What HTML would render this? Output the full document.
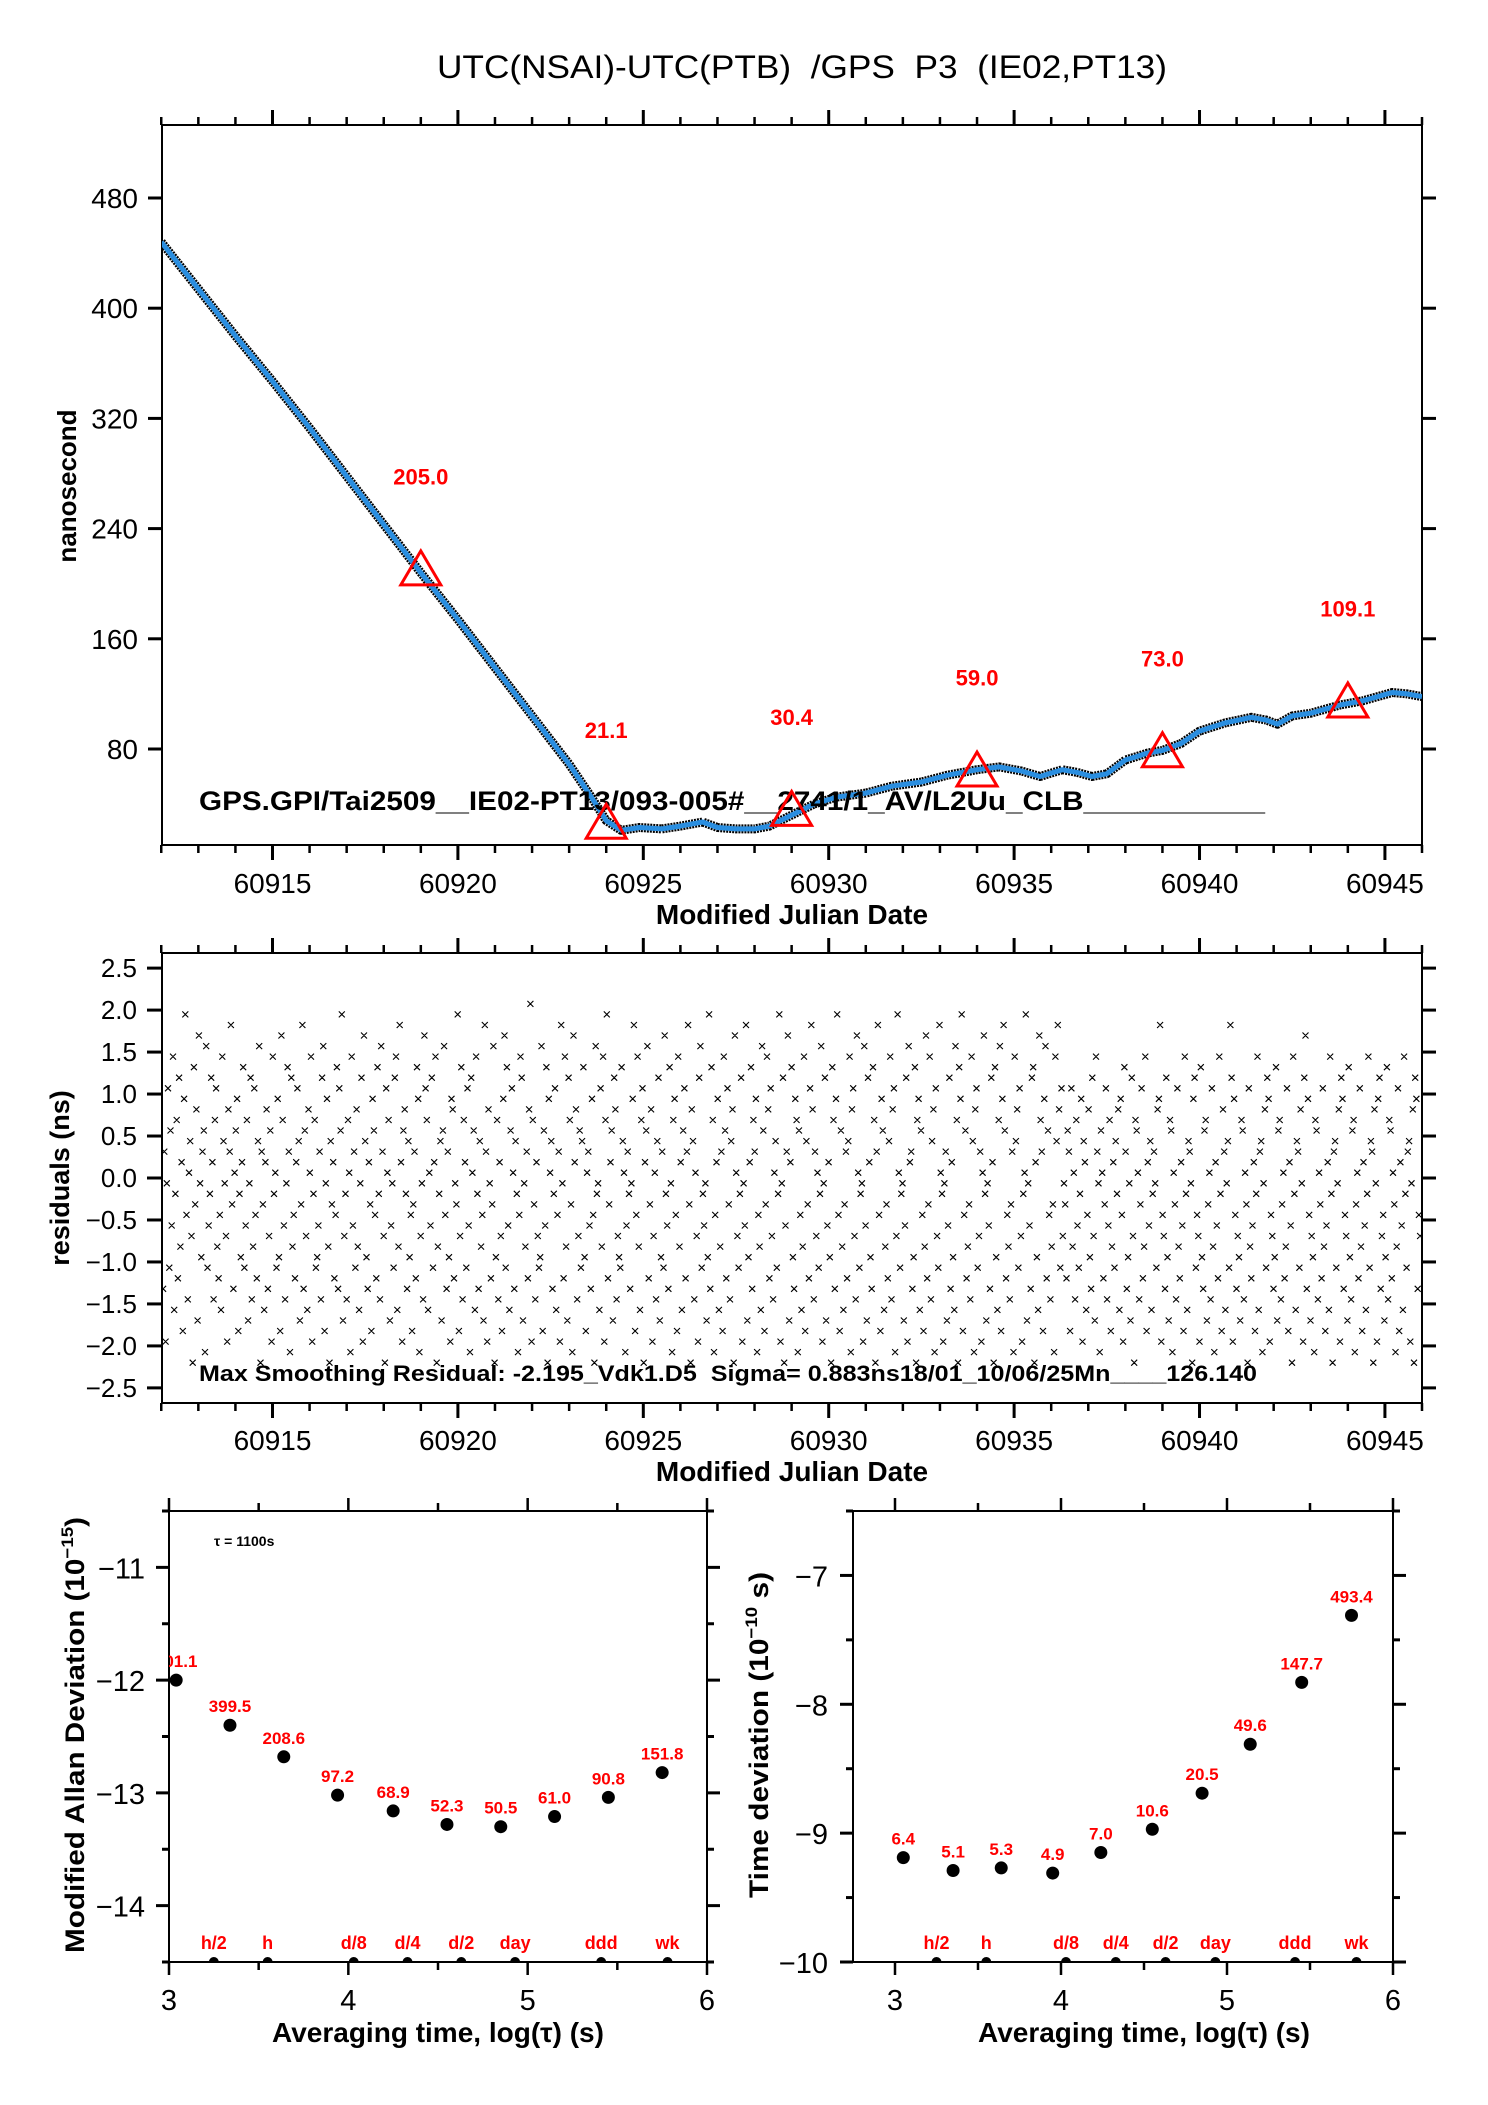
<!DOCTYPE html>
<html><head><meta charset="utf-8"><title>UTC(NSAI)-UTC(PTB) GPS P3</title>
<style>
html,body{margin:0;padding:0;background:#fff;}
svg{display:block;}
text{font-family:"Liberation Sans",Arial,sans-serif;white-space:pre;}
</style></head>
<body>
<svg id="fig" xmlns="http://www.w3.org/2000/svg" width="1488" height="2105" viewBox="0 0 1488 2105">
<rect width="1488" height="2105" fill="#fff"/>
<text x="802" y="78" font-size="32" text-anchor="middle" textLength="730" lengthAdjust="spacingAndGlyphs" xml:space="preserve">UTC(NSAI)-UTC(PTB)  /GPS  P3  (IE02,PT13)</text>
<defs>
<clipPath id="clipTop"><rect x="162" y="125" width="1260" height="720"/></clipPath>
<clipPath id="clipMid"><rect x="162" y="953" width="1260" height="450"/></clipPath>
<clipPath id="clipBL"><rect x="169" y="1511" width="538" height="451"/></clipPath>
<clipPath id="clipBR"><rect x="853" y="1511" width="540" height="451"/></clipPath>
</defs>
<g id="gTop"></g>
<g id="gMid"></g>
<g id="gBL"></g>
<g id="gBR"></g>
</svg>
<script>
// ---------- data: top panel ----------
const curveMjd = [60912.0,60913,60914,60915,60916,60917,60918,60919,60920,60921,60922,60923,60923.6,60924.0,60924.4,60924.9,60925.5,60926.0,60926.6,60927.0,60927.5,60928.0,60928.4,60929.0,60929.6,60930.2,60931.0,60931.7,60932.5,60933.2,60934.0,60934.6,60935.2,60935.7,60936.3,60936.7,60937.1,60937.5,60938.0,60938.6,60939.0,60939.5,60940.0,60940.7,60941.4,60941.8,60942.1,60942.5,60943.0,60943.8,60944.4,60945.2,60945.6,60946.0];
const curveNs = [448,414,380,347,313,278,243,208,174,139,104,69,45,28,21,23,22,24,27,23,22,22,24,32,40,45,48,53,56,61,65,67,64,60,65,63,60,62,72,77,79,84,93,99,103,101,98,104,106,112,115,121,120,118];
const markMjd = [60919,60924,60929,60934,60939,60944];
const markVals = [205.0,21.1,30.4,59.0,73.0,109.1];
const topYTicks = [80,160,240,320,400,480];
const mjdTicks = [60915,60920,60925,60930,60935,60940,60945];
// ---------- data: residuals ----------
const residCodes =
"7k2hq9mdt5gn8rbj3pxe6ilc0sfo4vhakm1u9dgrj6nqb8e5tlhc2okwf7imp3gajs9dn4hr6bqe8lu0kf5jo7cm2tgi9pa3vnd6hsk1rbe8jql4fw7mc5oit2gn9adk6ru3hpb0lfj8es7qmx4cg6ni1tdk9ob5hr2vla7jf3pme8sg6ukc0qin4dh9rt5bwj2mog7lae3fk8sp1ch6vqn5idr9jt0bgl4mue7ka2po8hfx3cs6nj9qd1rim5tg7lbe4wk2oh8fu0an6jc3pv9sd5mqi7lg1etr4hbk8oy2nf6jc9au3mds0pil7gq5ek2wh8tb4rnf1vjo6cm9lsa3ikd7pe0ugh5qbt2nx8fjm4ro6ca9sli1dkg7hpw3etb5nq0jmu8fo2ci6lr4ak9vgd7sh1npe3tbj5mq8kwf0ol6ic2ru9gdh4ax7sn1ejp5bk3tm8qf6lo0vic9gr2hdw4ajs7nkp1eb5um3fto8qc6il9gx2hr0dkv4jsa7pn1me5bt3lf8qwo6kci9gu2hr4dja0sn7pxe3mb5fk8lt1oqc6vi9gh2ud4rja7sn0kwe3pm5bf8lt6oq1cxi9gh4dr2ujk7as0np5me3bv8ft6lo1qc9wig2hk4dr7ja5un0spx3em8bf6tl1oq9ck2ivg4hd7rj0sa5nu3pwm8eb6fk1tlo9qc2gix4hd7rs0ja5vnk3pu8me6bf1tlwo9qc"+
"hf8mk3qbi6nd9gp2lj5eoa7rc4tkh1mi8fq6dn3bj9lgo5pe2sk7ah4rc0nmi6fq8bt3jdl5gkh9opw2ec7ra4nm1if6qb8jd3tg5lkh0pr9ec2sa7mn4fi6qb1jd8tg3ok5hl9wr2pe7ca4nm6if0qb8dj3gt5kl1ho9rp2ec7as4mn6fi8bq3jd0tg5lk9oh2rv7pe4ca1nm6if8qb3dj5tg0kl9ho2rp7ec4sa6mn1fi8qb3jd5gt9lk0oh2pr7ce4as6nm8if1bq3jd5tg9kl2ho0rp7ec";
const residTicks = [-2.5,-2.0,-1.5,-1.0,-0.5,0.0,0.5,1.0,1.5,2.0,2.5];
// ---------- data: Allan deviation ----------
const adevLogTau = [3.04,3.34,3.64,3.94,4.25,4.55,4.85,5.15,5.45,5.75];
const adevVals = [-12.0,-12.40,-12.68,-13.02,-13.16,-13.28,-13.30,-13.21,-13.04,-12.82];
const adevLabels = ["401.1","399.5","208.6","97.2","68.9","52.3","50.5","61.0","90.8","151.8"];
const adevYTicks = [-14,-13,-12,-11];
// ---------- data: time deviation ----------
const tdevLogTau = [3.05,3.35,3.64,3.95,4.24,4.55,4.85,5.14,5.45,5.75];
const tdevVals = [-9.19,-9.29,-9.27,-9.31,-9.15,-8.97,-8.69,-8.31,-7.83,-7.31];
const tdevLabels = ["6.4","5.1","5.3","4.9","7.0","10.6","20.5","49.6","147.7","493.4"];
const tdevYTicks = [-10,-9,-8,-7];
// ---------- shared ----------
const spanLogTau = [3.25,3.55,4.03,4.33,4.63,4.93,5.41,5.78];
const spanLabels = ["h/2","h","d/8","d/4","d/2","day","ddd","wk"];
const logTicks = [3,4,5,6];

const NS = "http://www.w3.org/2000/svg";
function mk(tag, attrs, parent, txt){
  const e = document.createElementNS(NS, tag);
  for (const k in attrs) e.setAttribute(k, attrs[k]);
  if (txt !== undefined) e.textContent = txt;
  parent.appendChild(e);
  return e;
}
function lin(d0,d1,r0,r1){ return v => r0 + (v-d0)/(d1-d0)*(r1-r0); }

// ================= TOP PANEL =================
(function(){
  const g = document.getElementById('gTop');
  const L=162,R=1422,T=125,B=845;
  const x = lin(60912.02,60946.0,L,R), y = lin(10.3,533,B,T);
  const frame = mk('rect',{x:L,y:T,width:R-L,height:B-T,fill:'none',stroke:'#000','stroke-width':2},g);
  
  
  for (let d=60912; d<=60946; d++){
    const major = d%5===0;
    const len = major?15:8;
    const t1 = mk('line',{x1:x(d),x2:x(d),y1:T,y2:T-len,stroke:'#000','stroke-width':major?3:2.5},g);
    
    
    const t2 = mk('line',{x1:x(d),x2:x(d),y1:B,y2:B+len,stroke:'#000','stroke-width':major?3:2.5},g);
    
    
  }
  mjdTicks.forEach(v=>{
    const t = mk('text',{x:x(v),y:893,'font-size':28,'text-anchor':'middle'},g,String(v));
    
    
  });
  topYTicks.forEach(v=>{
    const a = mk('line',{x1:L-14,x2:L,y1:y(v),y2:y(v),stroke:'#000','stroke-width':3},g);
    
    
    const b = mk('line',{x1:R,x2:R+14,y1:y(v),y2:y(v),stroke:'#000','stroke-width':3},g);
    
    
    const t = mk('text',{x:138,y:y(v)+10,'font-size':28,'text-anchor':'end'},g,String(v));
    
    
  });
  const cg = mk('g',{'clip-path':'url(#clipTop)'},g);
  
  
  const pts = curveMjd.map((m,i)=>x(m).toFixed(1)+','+y(curveNs[i]).toFixed(1)).join(' ');
  const under = mk('polyline',{points:pts,fill:'none',stroke:'#000','stroke-width':9,'stroke-linejoin':'round','stroke-dasharray':'2 1'},cg);
  
  
  const line = mk('polyline',{points:pts,fill:'none',stroke:'#2a8ee0','stroke-width':5,'stroke-linejoin':'round'},cg);
  
  
  const gt = mk('text',{x:199,y:810,'font-size':27,'font-weight':'bold',textLength:1066,lengthAdjust:'spacingAndGlyphs'},g,'GPS.GPI/Tai2509__IE02-PT13/093-005#__2741/1_AV/L2Uu_CLB___________');
  
  
  markMjd.forEach((m,i)=>{
    const cx=x(m), cy=y(markVals[i]+5);
    const tri = mk('polygon',{points:`${cx},${cy-19} ${cx-20},${cy+15} ${cx+20},${cy+15}`,fill:'none',stroke:'#f00','stroke-width':3},g);
    
    
    const lb = mk('text',{x:cx,y:y(markVals[i]+67),'font-size':22,'font-weight':'bold',fill:'#f00','text-anchor':'middle'},g,markVals[i].toFixed(1));
    
    
  });
  const xt = mk('text',{x:792,y:924,'font-size':28,'font-weight':'bold','text-anchor':'middle'},g,'Modified Julian Date');
  
  
  const yt = mk('text',{x:0,y:0,'font-size':26,'font-weight':'bold','text-anchor':'middle',transform:'translate(76,486) rotate(-90)'},g,'nanosecond');
  
  
})();

// ================= MIDDLE PANEL =================
(function(){
  const g = document.getElementById('gMid');
  const L=162,R=1422,T=953,B=1403;
  const x = lin(60912.02,60946.0,L,R), y = lin(-2.68,2.68,B,T);
  const frame = mk('rect',{x:L,y:T,width:R-L,height:B-T,fill:'none',stroke:'#000','stroke-width':2},g);
  
  
  for (let d=60912; d<=60946; d++){
    const major = d%5===0;
    const len = major?15:8;
    const t1 = mk('line',{x1:x(d),x2:x(d),y1:T,y2:T-len,stroke:'#000','stroke-width':major?3:2.5},g);
    
    
    const t2 = mk('line',{x1:x(d),x2:x(d),y1:B,y2:B+len,stroke:'#000','stroke-width':major?3:2.5},g);
    
    
  }
  mjdTicks.forEach(v=>{
    const t = mk('text',{x:x(v),y:1450,'font-size':28,'text-anchor':'middle'},g,String(v));
    
    
  });
  residTicks.forEach(v=>{
    const a = mk('line',{x1:L-15,x2:L,y1:y(v),y2:y(v),stroke:'#000','stroke-width':3},g);
    
    
    const b = mk('line',{x1:R,x2:R+14,y1:y(v),y2:y(v),stroke:'#000','stroke-width':3},g);
    
    
    const s = (v<0?'\u2212':'')+Math.abs(v).toFixed(1);
    const t = mk('text',{x:137,y:y(v)+9,'font-size':26,'text-anchor':'end'},g,s);
    
    
  });
  const cg = mk('g',{'clip-path':'url(#clipMid)',stroke:'#000','stroke-width':1.1},g);
  
  
  const alphabet = '0123456789abcdefghijklmnopqrstuvwxyz';
  const n = residCodes.length;
  let d = '';
  for (let i=0;i<n;i++){
    const v = -2.2 + alphabet.indexOf(residCodes[i])*4.4/35;
    const m = 60912.05 + i*(33.9/(n-1));
    const px = x(m), py = y(v);
    d += `M${(px-3).toFixed(1)} ${(py-3).toFixed(1)}l6 6M${(px-3).toFixed(1)} ${(py+3).toFixed(1)}l6 -6`;
  }
  const p = mk('path',{d:d,fill:'none'},cg);
  
  
  const info = mk('text',{x:199,y:1381,'font-size':22,'font-weight':'bold',textLength:1058,lengthAdjust:'spacingAndGlyphs','xml:space':'preserve'},g,'Max Smoothing Residual: -2.195_Vdk1.D5  Sigma= 0.883ns18/01_10/06/25Mn____126.140');
  
  
  const xt = mk('text',{x:792,y:1481,'font-size':28,'font-weight':'bold','text-anchor':'middle'},g,'Modified Julian Date');
  
  
  const yt = mk('text',{x:0,y:0,'font-size':27,'font-weight':'bold','text-anchor':'middle',transform:'translate(69,1178) rotate(-90)'},g,'residuals (ns)');
  
  
})();

// ================= STABILITY PANELS =================
function stabPanel(gid, clip, L, R, T, B, x0, x1, y0, y1, lx, yTicks, vals, labels, title, titleLen, titleX, tickLabelRight, extraText){
  const g = document.getElementById(gid);
  const xs = lin(x0,x1,L,R), y = lin(y0,y1,B,T);
  const frame = mk('rect',{x:L,y:T,width:R-L,height:B-T,fill:'none',stroke:'#000','stroke-width':2},g);
  
  
  for (let v=3; v<=6.001; v+=0.5){
    const major = Math.abs(v-Math.round(v))<1e-6;
    const len = major?13:8;
    const a = mk('line',{x1:xs(v),x2:xs(v),y1:T,y2:T-len,stroke:'#000','stroke-width':2.5},g);
    
    
    const b = mk('line',{x1:xs(v),x2:xs(v),y1:B,y2:B+len,stroke:'#000','stroke-width':2.5},g);
    
    
  }
  logTicks.forEach(v=>{
    const t = mk('text',{x:xs(v),y:2010,'font-size':29,'text-anchor':'middle'},g,String(v));
    
    
  });
  for (let v=Math.ceil(y0*2)/2; v<=y1+1e-6; v+=0.5){
    const major = Math.abs(v-Math.round(v))<1e-6;
    const len = major?13:7;
    const a = mk('line',{x1:L-len,x2:L,y1:y(v),y2:y(v),stroke:'#000','stroke-width':3},g);
    
    
    const b = mk('line',{x1:R,x2:R+len,y1:y(v),y2:y(v),stroke:'#000','stroke-width':3},g);
    
    
  }
  yTicks.forEach(v=>{
    const t = mk('text',{x:tickLabelRight,y:y(v)+11,'font-size':29,'text-anchor':'end'},g,'\u2212'+Math.abs(v));
    
    
  });
  const cg = mk('g',{'clip-path':'url(#'+clip+')'},g);
  
  
  lx.forEach((lt,i)=>{
    const c = mk('circle',{cx:xs(lt),cy:y(vals[i]),r:6.5,fill:'#000'},cg);
    
    
    const t = mk('text',{x:xs(lt),y:y(vals[i])-13,'font-size':17,'font-weight':'bold',fill:'#f00','text-anchor':'middle'},cg,labels[i]);
    
    
  });
  spanLogTau.forEach((lt,i)=>{
    const c = mk('circle',{cx:xs(lt),cy:B,r:5,fill:'#000'},cg);
    
    
    const t = mk('text',{x:xs(lt),y:B-13,'font-size':18,'font-weight':'bold',fill:'#f00','text-anchor':'middle'},g,spanLabels[i]);
    
    
  });
  const xt = mk('text',{x:(xs(3)+xs(6))/2,y:2042,'font-size':28,'font-weight':'bold','text-anchor':'middle'},g,'Averaging time, log(\u03C4) (s)');
  
  
  const yt = mk('text',{x:0,y:0,'font-size':27,'font-weight':'bold','text-anchor':'middle',textLength:titleLen,lengthAdjust:'spacingAndGlyphs',transform:`translate(${titleX},1735) rotate(-90)`},g);
  
  
  mk('tspan',{},yt,title[0]);
  mk('tspan',{'font-size':17,dy:-11},yt,title[1]);
  mk('tspan',{dy:11},yt,title[2]);
  if (extraText){
    const t = mk('text',{x:214,y:1546,'font-size':14,'font-weight':'bold'},g,'\u03C4 = 1100s');
    
    
  }
}
stabPanel('gBL','clipBL',169,707,1511,1962,3,6,-14.5,-10.5,adevLogTau,adevYTicks,adevVals,adevLabels,['Modified Allan Deviation (10','\u221215',')'],436,84,145,true);
stabPanel('gBR','clipBR',853,1393,1511,1962,2.747,6,-10,-6.5,tdevLogTau,tdevYTicks,tdevVals,tdevLabels,['Time deviation (10','\u221210',' s)'],326,768,828,false);
</script>
</body></html>
